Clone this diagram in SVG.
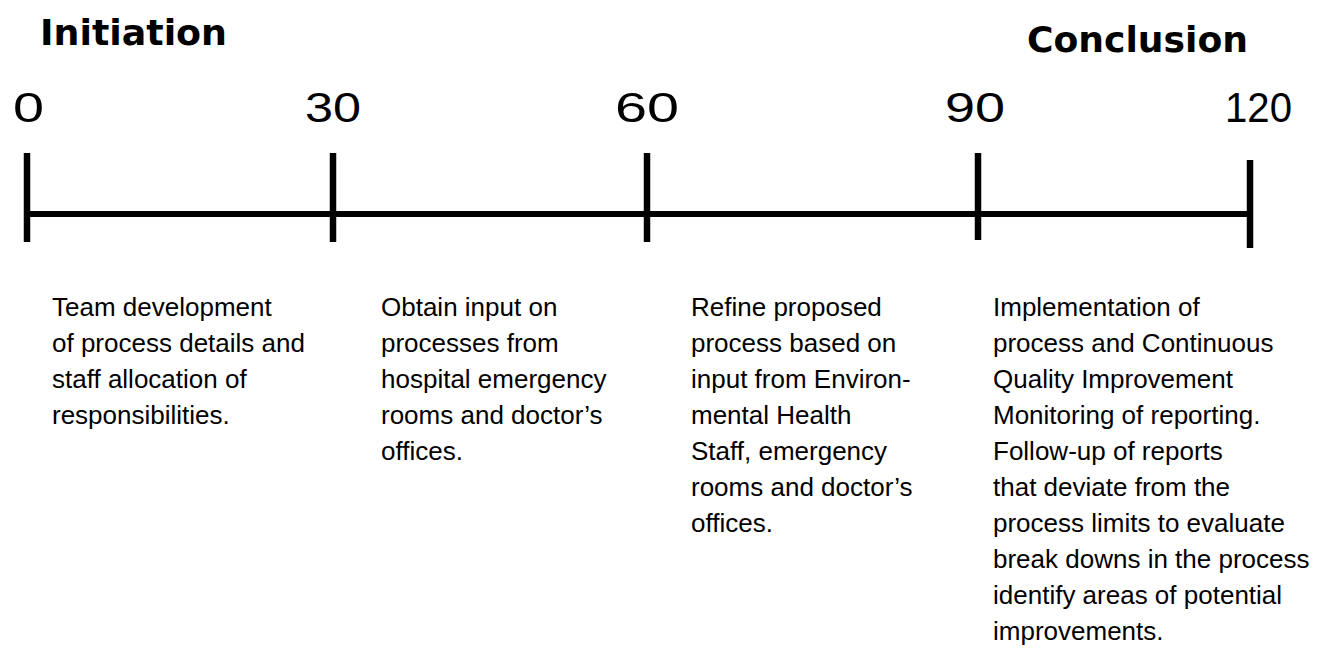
<svg xmlns="http://www.w3.org/2000/svg" width="1321" height="650" viewBox="0 0 1321 650">
<style>
.title{font-family:"DejaVu Sans","Liberation Sans",sans-serif;font-weight:bold;font-size:35px;fill:#000}
.num{font-family:"Liberation Sans","DejaVu Sans",sans-serif;font-size:42px;fill:#000}
.body{font-family:"Liberation Sans","DejaVu Sans",sans-serif;font-size:26px;fill:#000}
.axis{stroke:#000;stroke-width:6;fill:none}
.tick{stroke:#000;stroke-width:6.5;fill:none}
</style>
<rect width="1321" height="650" fill="#fff"/>
<g id="connectors">
<line class="axis" x1="27" y1="214" x2="1250" y2="214"/>
<line class="tick" x1="27" y1="153" x2="27" y2="242"/>
<line class="tick" x1="333" y1="153" x2="333" y2="242"/>
<line class="tick" x1="647" y1="153" x2="647" y2="242"/>
<line class="tick" x1="978" y1="153" x2="978" y2="240"/>
<line class="tick" x1="1250" y1="160" x2="1250" y2="248"/>
</g>
<g id="title-initiation"><text class="title" x="40" y="45" textLength="187" lengthAdjust="spacingAndGlyphs">Initiation</text></g>
<g id="title-conclusion"><text class="title" x="1027" y="52" textLength="221" lengthAdjust="spacingAndGlyphs">Conclusion</text></g>
<g id="label-0"><text class="num" x="13" y="122" textLength="31" lengthAdjust="spacingAndGlyphs">0</text></g>
<g id="label-30"><text class="num" x="305" y="122" textLength="56" lengthAdjust="spacingAndGlyphs">30</text></g>
<g id="label-60"><text class="num" x="615" y="122" textLength="64" lengthAdjust="spacingAndGlyphs">60</text></g>
<g id="label-90"><text class="num" x="945" y="122" textLength="60" lengthAdjust="spacingAndGlyphs">90</text></g>
<g id="label-120"><text class="num" x="1225" y="122" textLength="67" lengthAdjust="spacingAndGlyphs">120</text></g>
<g id="phase-1">
<text class="body" x="52" y="316">Team development</text>
<text class="body" x="52" y="352">of process details and</text>
<text class="body" x="52" y="388">staff allocation of</text>
<text class="body" x="52" y="424">responsibilities.</text>
</g>
<g id="phase-2">
<text class="body" x="381" y="316">Obtain input on</text>
<text class="body" x="381" y="352">processes from</text>
<text class="body" x="381" y="388">hospital emergency</text>
<text class="body" x="381" y="424">rooms and doctor’s</text>
<text class="body" x="381" y="460">offices.</text>
</g>
<g id="phase-3">
<text class="body" x="691" y="316">Refine proposed</text>
<text class="body" x="691" y="352">process based on</text>
<text class="body" x="691" y="388">input from Environ-</text>
<text class="body" x="691" y="424">mental Health</text>
<text class="body" x="691" y="460">Staff, emergency</text>
<text class="body" x="691" y="496">rooms and doctor’s</text>
<text class="body" x="691" y="532">offices.</text>
</g>
<g id="phase-4">
<text class="body" x="993" y="316">Implementation of</text>
<text class="body" x="993" y="352">process and Continuous</text>
<text class="body" x="993" y="388">Quality Improvement</text>
<text class="body" x="993" y="424">Monitoring of reporting.</text>
<text class="body" x="993" y="460">Follow-up of reports</text>
<text class="body" x="993" y="496">that deviate from the</text>
<text class="body" x="993" y="532">process limits to evaluate</text>
<text class="body" x="993" y="568">break downs in the process</text>
<text class="body" x="993" y="604">identify areas of potential</text>
<text class="body" x="993" y="640">improvements.</text>
</g>
</svg>
